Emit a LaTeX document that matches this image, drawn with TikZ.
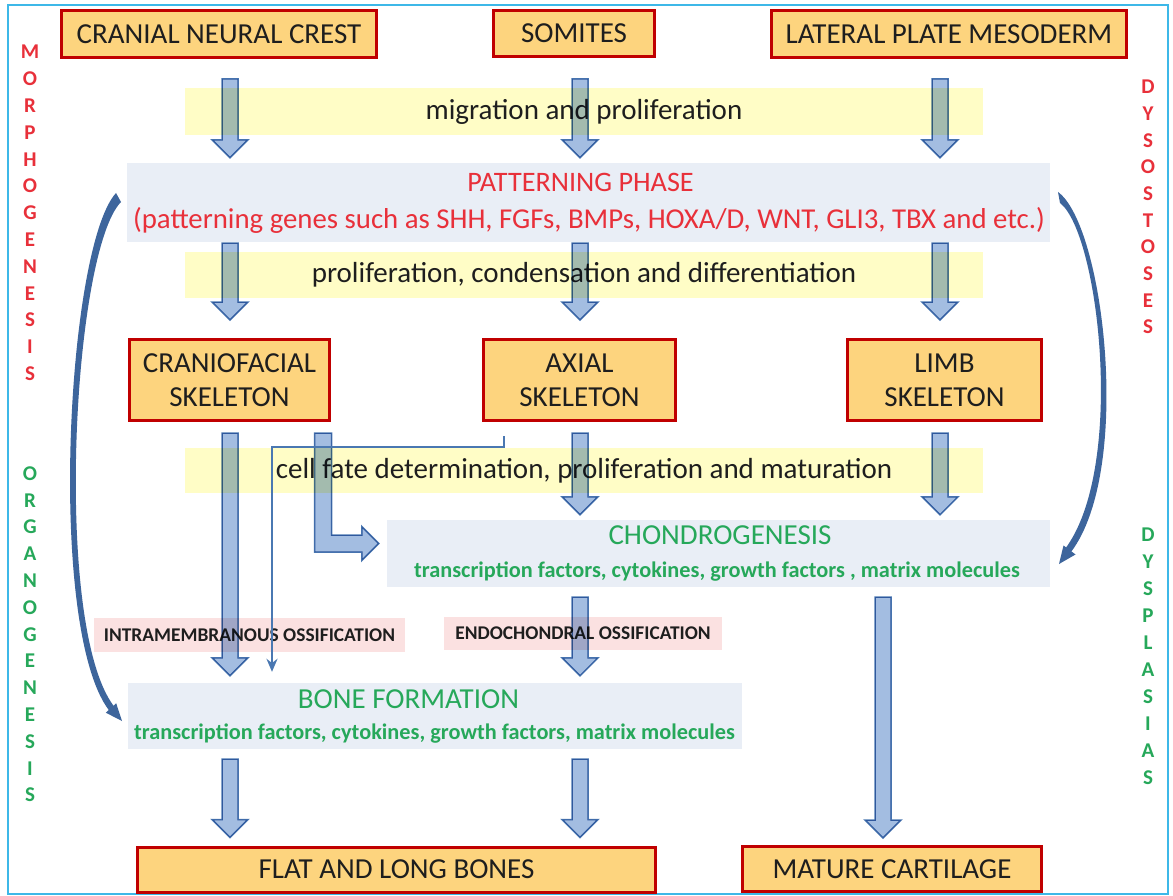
\documentclass[tikz,border=0pt]{standalone}
\usepackage{fontspec}
\setmainfont{Carlito}
\usetikzlibrary{calc,arrows.meta}
\definecolor{boxfill}{HTML}{FDD47E}
\definecolor{boxline}{HTML}{C00000}
\definecolor{bandyellow}{HTML}{FFFDC6}
\definecolor{paleblue}{HTML}{E9EEF6}
\definecolor{palepink}{HTML}{FBE1E1}
\definecolor{arrowfill}{HTML}{A3BDE1}
\definecolor{arrowline}{HTML}{4A78B2}
\definecolor{curveblue}{HTML}{3D659C}
\definecolor{frameblue}{HTML}{3DB8E8}
\definecolor{txtred}{HTML}{E8303A}
\definecolor{txtgreen}{HTML}{26A85A}
\definecolor{txtdark}{HTML}{1E1E1E}

% vertical block arrow from tail #1 down to tip #2
\newcommand\fatdown[2]{%
  \path[fatarrow] let \p1=#1, \p2=#2 in
    (\x1-8pt,\y1) -- (\x1+8pt,\y1) -- (\x1+8pt,\y2+18pt) -- (\x1+18pt,\y2+18pt)
    -- (\x1,\y2) -- (\x1-18pt,\y2+18pt) -- (\x1-8pt,\y2+18pt) -- cycle;}

\begin{document}
\begin{tikzpicture}[x=1pt,y=-1pt,
  obox/.style={draw=boxline, line width=3pt, fill=boxfill, inner sep=0pt,
    text=txtdark, font=\fontsize{29}{34}\selectfont, align=center},
  band/.style={fill=bandyellow, inner sep=0pt, text=txtdark,
    font=\fontsize{29}{32}\selectfont},
  phasebox/.style={fill=paleblue, inner sep=0pt},
  ossif/.style={fill=palepink, inner sep=0pt, text=txtdark,
    font=\bfseries\fontsize{19.4}{22}\selectfont},
  fatarrow/.style={fill=arrowfill, draw=arrowline, line width=1.5pt, line join=miter},
  linkline/.style={draw=arrowline, line width=2pt, -{Stealth[length=13pt,width=11pt]}},
  sideletter/.style={font=\bfseries\fontsize{21}{22}\selectfont, inner sep=0pt},
  curvefill/.style={fill=curveblue},
]
% canvas and frame
\fill[white] (0,0) rectangle (1173,896);
\draw[frameblue, line width=2pt] (8,5) rectangle (1168,894);

% column guides
\coordinate (k1) at (230,0);
\coordinate (k2) at (580,0);
\coordinate (k3) at (940,0);
\coordinate (k4) at (883,0);
\coordinate (k5) at (323,0);
\coordinate (k6) at (272,0);

% pale bands and phase boxes
\node[band, minimum width=798pt, minimum height=47pt] (b1) at (584,111.5) {migration and proliferation};
\node[phasebox, minimum width=923pt, minimum height=79pt] (pat) at (588.5,202.5) {};
\node[text=txtred, font=\fontsize{28.2}{32}\selectfont, anchor=base] (pt1) at (580.5,192) {PATTERNING PHASE};
\node[text=txtred, font=\fontsize{28.8}{32}\selectfont, anchor=base] (pt2) at (589,228.5) {(patterning genes such as SHH, FGFs, BMPs, HOXA/D, WNT, GLI3, TBX and etc.)};
\node[band, minimum width=798pt, minimum height=46pt] (b2) at (584,275) {proliferation, condensation and differentiation};
\node[band, minimum width=798pt, minimum height=45pt] (b3) at (584,470.5) {cell fate determination, proliferation and maturation};

\node[phasebox, minimum width=663pt, minimum height=67pt] (chon) at (718.5,553.5) {};
\node[text=txtgreen, font=\fontsize{29}{32}\selectfont, anchor=base] (ct1) at (720,544) {CHONDROGENESIS};
\node[text=txtgreen, font=\bfseries\fontsize{22.3}{26}\selectfont, anchor=base] (ct2) at (717,577.5) {transcription factors, cytokines, growth factors , matrix molecules};

\node[ossif, minimum width=311pt, minimum height=34pt] (intra) at (249.5,635) {INTRAMEMBRANOUS OSSIFICATION};
\node[ossif, minimum width=278pt, minimum height=33pt] (endo) at (583,633.5) {ENDOCHONDRAL OSSIFICATION};

\node[phasebox, minimum width=614pt, minimum height=66pt] (bone) at (435,716) {};
\node[text=txtgreen, font=\fontsize{29}{32}\selectfont, anchor=base] (bt1) at (408.5,708) {BONE FORMATION};
\node[text=txtgreen, font=\bfseries\fontsize{22.3}{26}\selectfont, anchor=base] (bt2) at (434.5,739.5) {transcription factors, cytokines, growth factors, matrix molecules};

% orange boxes
\node[obox, minimum width=315pt, minimum height=47pt] (cnc) at (219,34) {CRANIAL NEURAL CREST};
\node[obox, minimum width=161pt, minimum height=46pt] (som) at (574,33.5) {SOMITES};
\node[obox, minimum width=355pt, minimum height=47pt] (lpm) at (949,34) {LATERAL PLATE MESODERM};
\node[obox, minimum width=200pt, minimum height=81pt] (cf) at (229.5,380) {CRANIOFACIAL\\SKELETON};
\node[obox, minimum width=192pt, minimum height=81pt] (ax) at (579.5,380) {AXIAL\\SKELETON};
\node[obox, minimum width=194pt, minimum height=81pt] (lb) at (944.5,380) {LIMB\\SKELETON};
\node[obox, minimum width=518pt, minimum height=45pt] (flat) at (396.5,869.5) {FLAT AND LONG BONES};
\node[obox, minimum width=299pt, minimum height=45pt] (mat) at (892,869) {MATURE CARTILAGE};

% block arrows
\begin{scope}[blend mode=multiply]
\fatdown{([yshift=-20pt]cnc.south -| k1)}{([yshift=5pt]pat.north -| k1)}
\fatdown{([yshift=-21pt]som.south -| k2)}{([yshift=5pt]pat.north -| k2)}
\fatdown{([yshift=-20pt]lpm.south -| k3)}{([yshift=5pt]pat.north -| k3)}
\fatdown{([yshift=-1pt]pat.south -| k1)}{([yshift=18pt]cf.north -| k1)}
\fatdown{([yshift=-1pt]pat.south -| k2)}{([yshift=18pt]ax.north -| k2)}
\fatdown{([yshift=-1pt]pat.south -| k3)}{([yshift=18pt]lb.north -| k3)}
\fatdown{([yshift=-11pt]cf.south -| k1)}{([yshift=7pt]bone.north -| k1)}
\fatdown{([yshift=-11pt]ax.south -| k2)}{([yshift=5pt]chon.north -| k2)}
\fatdown{([yshift=-11pt]lb.south -| k3)}{([yshift=5pt]chon.north -| k3)}
\fatdown{([yshift=-10pt]chon.south -| k2)}{([yshift=7pt]bone.north -| k2)}
\fatdown{([yshift=-10pt]chon.south -| k4)}{([yshift=7pt]mat.north -| k4)}
\fatdown{([yshift=-10pt]bone.south -| k1)}{([yshift=8pt]flat.north -| k1)}
\fatdown{([yshift=-10pt]bone.south -| k2)}{([yshift=8pt]flat.north -| k2)}
% bent arrow from the craniofacial skeleton into chondrogenesis
\path[fatarrow] let \p1=([yshift=-11pt]cf.south -| k5), \p2=([xshift=-8pt,yshift=10pt]chon.west) in
  (\x1-8.5pt,\y1) -- (\x1+8.5pt,\y1) -- (\x1+8.5pt,\y2+8.5pt) -- (\x2-17pt,\y2+8.5pt)
  -- (\x2-17pt,\y2+17pt) -- (\x2,\y2) -- (\x2-17pt,\y2-17pt) -- (\x2-17pt,\y2-8.5pt)
  -- (\x1-8.5pt,\y2-8.5pt) -- cycle;
\end{scope}

% thin link from the axial skeleton to bone formation
\draw[linkline] ([xshift=-75.5pt,yshift=-14pt]ax.south) -- ++(0,11) -| ([yshift=11pt]bone.north -| k6);

% curved feedback arrows
\fill[curvefill] (116,193) .. controls (66,248) and (46,640) .. (112,714)
  -- (117,710) .. controls (52,638) and (72,252) .. (121,202) -- cycle;
\fill[curvefill] (105.8,712.7) -- (122,721) -- (116.2,703.3) -- cycle;
\fill[curvefill] (1058,192) .. controls (1104,225) and (1133,470) .. (1071,552)
  -- (1065,549) .. controls (1126,468) and (1099,233) .. (1060,203) -- cycle;
\fill[curvefill] (1075.5,554.5) -- (1059,564) -- (1063.5,545.5) -- cycle;

% side captions
\foreach \l [count=\i from 0] in {M,O,R,P,H,O,G,E,N,E,S,I,S}
  \node[sideletter, text=txtred] (mo\i) at (30,{52+26.8*\i}) {\l};
\foreach \l [count=\i from 0] in {O,R,G,A,N,O,G,E,N,E,S,I,S}
  \node[sideletter, text=txtgreen] (og\i) at (30,{473.4+26.8*\i}) {\l};
\foreach \l [count=\i from 0] in {D,Y,S,O,S,T,O,S,E,S}
  \node[sideletter, text=txtred] (dy\i) at (1148,{87+26.67*\i}) {\l};
\foreach \l [count=\i from 0] in {D,Y,S,P,L,A,S,I,A,S}
  \node[sideletter, text=txtgreen] (dp\i) at (1148,{535+27*\i}) {\l};
\end{tikzpicture}
\end{document}
